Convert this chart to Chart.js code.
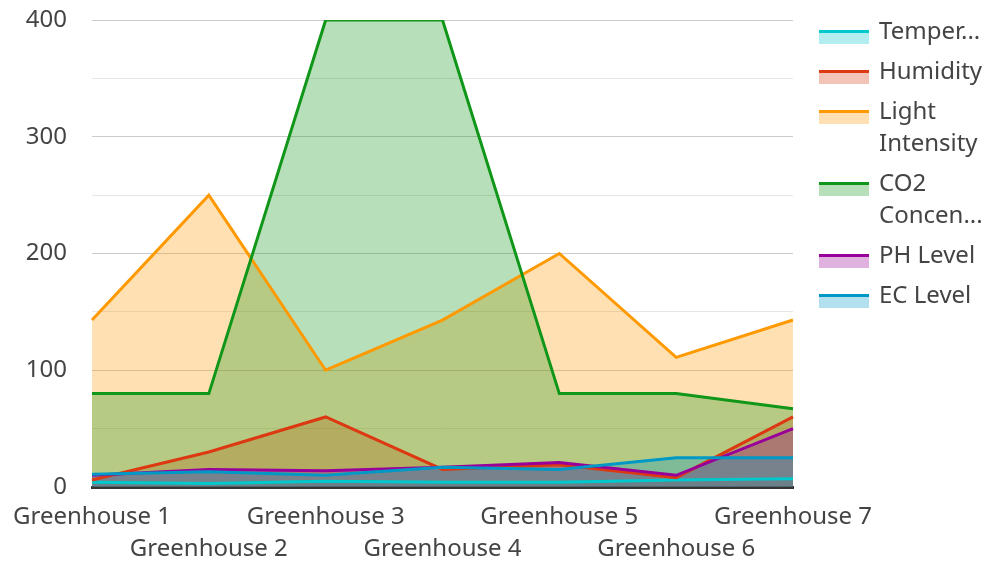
<!DOCTYPE html>
<html>
<head>
<meta charset="utf-8">
<script src="https://cdn.jsdelivr.net/npm/chart.js@4.4.1/dist/chart.umd.min.js"></script>
<style>
	html, body { margin: 0; padding: 0; background: #fff; }
	#wrap { width: 988px; height: 561px; position: relative; }
</style>
</head>
<body>
<div id="wrap"><canvas id="greenhouseChart"></canvas></div>
<script>
// 横軸ラベル
var categories = ['Greenhouse 1', 'Greenhouse 2', 'Greenhouse 3', 'Greenhouse 4', 'Greenhouse 5', 'Greenhouse 6', 'Greenhouse 7'];
// 各系列の値
var temperature = [4, 3, 5, 4, 4, 6, 7];
var humidity = [6, 30, 60, 15, 19, 8, 60];
var lightIntensity = [143, 250, 100, 143, 200, 111, 143];
var co2Concentration = [80, 80, 400, 400, 80, 80, 67];
var phLevel = [10, 15, 14, 17, 21, 10, 50];
var ecLevel = [11, 13, 10, 17, 15, 25, 25];
// 凡例の表示テキスト
var legendText = ['Temper...', 'Humidity', ['Light', 'Intensity'], ['CO2', 'Concen...'], 'PH Level', 'EC Level'];
// 縦軸
var yMax = 400;
var yStep = 50;
var yLabelStep = 100;

(function() {
	var lineColors = ['#00c8cc', '#dc3912', '#ff9900', '#109618', '#990099', '#0099c6'];
	var fillColors = ['rgba(0,200,204,0.3)', 'rgba(220,57,18,0.3)', 'rgba(255,153,0,0.3)', 'rgba(16,150,24,0.3)', 'rgba(153,0,153,0.3)', 'rgba(0,153,198,0.3)'];
	var names = ['Temperature', 'Humidity', 'Light Intensity', 'CO2 Concentration', 'PH Level', 'EC Level'];
	var series = [temperature, humidity, lightIntensity, co2Concentration, phLevel, ecLevel];

	Chart.defaults.font.family = "'Noto Sans', sans-serif";
	Chart.defaults.color = '#444';

	// 後の系列ほど上に重ねる
	var datasets = series.map(function(values, i) {
		return {
			label: names[i],
			data: values,
			order: -i,
			borderColor: lineColors[i],
			backgroundColor: fillColors[i],
			borderWidth: 3,
			fill: 'origin',
			pointRadius: 0,
			pointHoverRadius: 0,
			tension: 0
		};
	});

	// 凡例のスウォッチ（線＋塗り）を描く
	var swatchPlugin = {
		id: 'swatch',
		afterDraw: function(chart) {
			var legend = chart.legend;
			if (!legend || !legend.legendHitBoxes) return;
			var ctx = chart.ctx;
			ctx.save();
			legend.legendHitBoxes.forEach(function(box, i) {
				var idx = legend.legendItems[i].datasetIndex;
				var x = box.left + 18;
				var y = box.top + 16;
				ctx.fillStyle = fillColors[idx];
				ctx.fillRect(x, y + 1, 50, 11);
				ctx.fillStyle = lineColors[idx];
				ctx.fillRect(x, y - 2, 50, 3);
			});
			ctx.restore();
		}
	};

	var config = {
		type: 'line',
		data: { labels: categories, datasets: datasets },
		options: {
			responsive: true,
			maintainAspectRatio: false,
			animation: false,
			layout: { padding: { top: 8, right: 0, bottom: 0, left: 0 } },
			plugins: {
				tooltip: { enabled: false },
				filler: { drawTime: 'beforeDatasetsDraw' },
				legend: {
					position: 'right',
					align: 'start',
					maxWidth: 195,
					labels: {
						boxWidth: 66,
						boxHeight: 32,
						padding: 8,
						font: { size: 24, lineHeight: '32px' },
						color: '#444',
						generateLabels: function(chart) {
							var items = Chart.defaults.plugins.legend.labels.generateLabels(chart);
							items.sort(function(a, b) { return a.datasetIndex - b.datasetIndex; });
							items.forEach(function(item) {
								item.text = legendText[item.datasetIndex];
								item.fillStyle = 'rgba(0,0,0,0)';
								item.strokeStyle = 'rgba(0,0,0,0)';
								item.lineWidth = 0;
							});
							return items;
						}
					}
				}
			},
			scales: {
				x: {
					offset: false,
					grid: { display: false, drawTicks: false },
					border: { display: true, color: '#333', width: 3 },
					afterFit: function(scale) {
						scale.height = 74;
						scale.paddingLeft = 80;
						scale.paddingRight = 80;
					},
					ticks: {
						autoSkip: false,
						maxRotation: 0,
						minRotation: 0,
						padding: 14,
						font: { size: 24, lineHeight: '32px' },
						color: '#444',
						callback: function(value, index) {
							var label = categories[index];
							return index % 2 === 1 ? ['', label] : label;
						}
					}
				},
				y: {
					min: 0,
					max: yMax,
					afterFit: function(scale) {
						scale.width = 92;
						scale.paddingTop = 20;
						scale.paddingBottom = 0;
					},
					grid: {
						drawTicks: false,
						color: function(ctx) {
							return ctx.tick && ctx.tick.value % yLabelStep === 0 ? '#cccccc' : '#e6e6e6';
						},
						lineWidth: 1
					},
					border: { display: false },
					ticks: {
						stepSize: yStep,
						padding: 25,
						font: { size: 24, lineHeight: 1.2 },
						color: '#444',
						callback: function(value) {
							return value % yLabelStep === 0 ? value : '';
						}
					}
				}
			}
		},
		plugins: [swatchPlugin]
	};

	new Chart(document.getElementById('greenhouseChart').getContext('2d'), config);
})();
</script>
</body>
</html>
